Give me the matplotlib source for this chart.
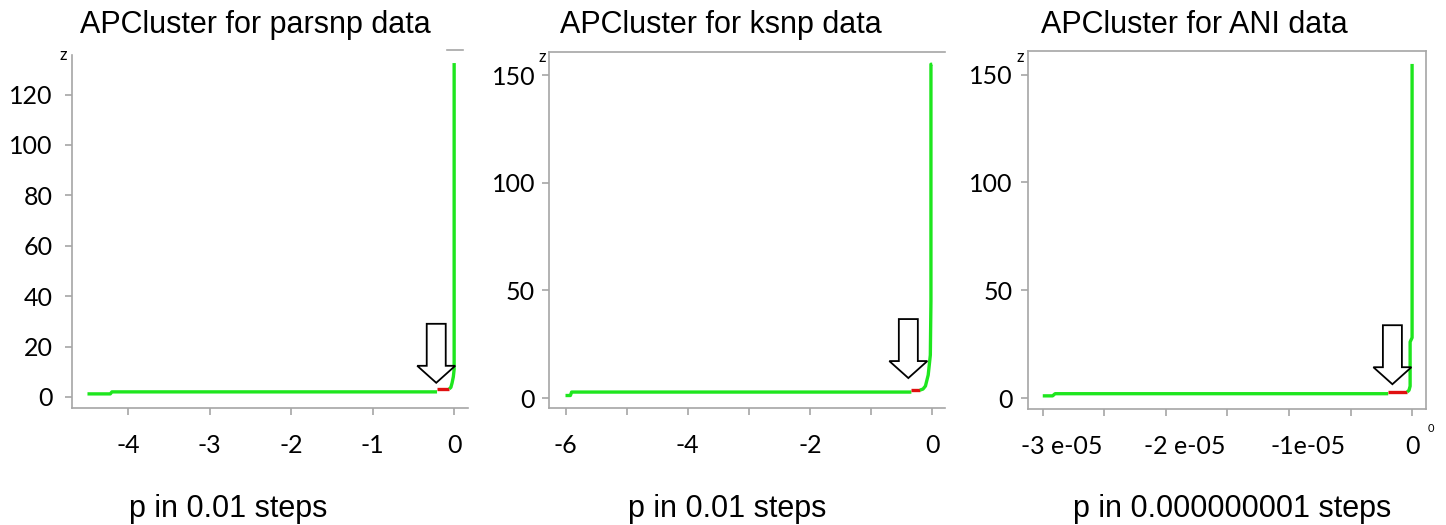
import matplotlib
matplotlib.use("Agg")
import matplotlib.pyplot as plt
import matplotlib.transforms as mtransforms
from matplotlib.patches import Polygon

# ---------------- data ----------------
titles = ["APCluster for parsnp data", "APCluster for ksnp data", "APCluster for ANI data"]
xlabels = ["p in 0.01 steps", "p in 0.01 steps", "p in 0.000000001 steps"]

# panel 1 (parsnp)
p1_green_a_x = [-4.50, -4.22, -4.20, -0.21]
p1_green_a_y = [1.2, 1.2, 2.0, 2.0]
p1_red_x = [-0.21, -0.06]
p1_red_y = [3.2, 3.2]
p1_green_b_x = [-0.06, -0.04, -0.025, -0.01, 0.0, 0.0]
p1_green_b_y = [3.2, 3.8, 5.6, 8.0, 11.0, 132.5]
p1_xticks = [-4, -3, -2, -1, 0]
p1_xticklabels = ["-4", "-3", "-2", "-1", "0"]
p1_yticks = [0, 20, 40, 60, 80, 100, 120]
p1_arrow_tip = (-0.22, 5.6)

# panel 2 (ksnp)
p2_green_a_x = [-6.00, -5.92, -5.90, -0.34]
p2_green_a_y = [1.2, 1.2, 2.8, 2.8]
p2_red_x = [-0.34, -0.20]
p2_red_y = [3.7, 3.7]
p2_green_b_x = [-0.20, -0.15, -0.11, -0.065, -0.03, -0.02, -0.02, 0.0]
p2_green_b_y = [3.7, 4.2, 5.6, 10.7, 20.0, 45.0, 155.0, 155.0]
p2_xticks = [-6, -4, -2, 0]
p2_xticklabels = ["-6", "-4", "-2", "0"]
p2_xminor = [-5, -3, -1]
p2_yticks = [0, 50, 100, 150]
p2_arrow_tip = (-0.39, 9.3)

# panel 3 (ANI)
p3_green_a_x = [-3.00e-05, -2.92e-05, -2.90e-05, -1.94e-06]
p3_green_a_y = [1.0, 1.0, 2.0, 2.0]
p3_red_x = [-1.94e-06, -0.40e-06]
p3_red_y = [2.8, 2.8]
p3_green_b_x = [-0.40e-06, -0.25e-06, -0.16e-06, -0.16e-06, 0.0, 0.0]
p3_green_b_y = [2.8, 3.6, 5.5, 26.0, 28.0, 155.0]
p3_xticks = [-3e-05, -2e-05, -1e-05, 0]
p3_xticklabels = ["-3 e-05", "-2 e-05", "-1e-05", "0"]
p3_xminor = [-2.5e-05, -1.5e-05, -0.5e-05]
p3_yticks = [0, 50, 100, 150]
p3_arrow_tip = (-1.6e-06, 6.4)

# ---------------- style ----------------
W, H = 1446, 525
GREEN = "#1ee61e"
RED = "#e01010"
GRAY = "#a6a6a6"
TICKFONT = "Lato"
TEXTFONT = "Liberation Sans"

fig = plt.figure(figsize=(W / 100, H / 100), dpi=100)


def px_axes(x0, ytop, x1, ybot):
    return fig.add_axes([x0 / W, (H - ybot) / H, (x1 - x0) / W, (ybot - ytop) / H])


def style(ax, top=False, right=False, ypad=9):
    for s in ["left", "bottom", "top", "right"]:
        ax.spines[s].set_color(GRAY)
        ax.spines[s].set_linewidth(1.2)
    ax.spines["top"].set_visible(top)
    ax.spines["right"].set_visible(right)
    ax.tick_params(which="both", direction="out", length=5, width=1.2, color=GRAY,
                   labelsize=18, labelcolor="black")
    ax.tick_params(axis="x", which="both", pad=14)
    ax.tick_params(axis="y", which="both", pad=ypad)
    for lab in ax.get_xticklabels() + ax.get_yticklabels():
        lab.set_fontfamily(TICKFONT)


def hollow_arrow(ax, tip):
    verts = [(0, 0), (-19, 17), (-9.5, 17), (-9.5, 59), (9.5, 59), (9.5, 17), (19, 17)]
    tr = mtransforms.Affine2D() + mtransforms.ScaledTranslation(tip[0], tip[1], ax.transData)
    poly = Polygon(verts, closed=True, facecolor="white", edgecolor="black",
                   linewidth=1.3, transform=tr, zorder=5, clip_on=False)
    ax.add_patch(poly)


LW = 2.4

# panel 1
ax1 = px_axes(72, 55, 468, 408)
ax1.plot(p1_green_a_x, p1_green_a_y, color=GREEN, lw=LW, solid_capstyle="butt")
ax1.plot(p1_red_x, p1_red_y, color=RED, lw=LW, solid_capstyle="butt")
ax1.plot(p1_green_b_x, p1_green_b_y, color=GREEN, lw=LW, solid_capstyle="butt")
ax1.set_xlim(-4.69, 0.17)
ax1.set_ylim(-4.4, 135.7)
ax1.set_xticks(p1_xticks)
ax1.set_xticklabels(p1_xticklabels)
ax1.set_yticks(p1_yticks)
style(ax1, ypad=9)
ax1.plot([-0.09, 0.11], [137.5, 137.5], color=GRAY, lw=1.2, clip_on=False)
hollow_arrow(ax1, p1_arrow_tip)

# panel 2
ax2 = px_axes(549, 52, 945, 408)
ax2.plot(p2_green_a_x, p2_green_a_y, color=GREEN, lw=LW, solid_capstyle="butt")
ax2.plot(p2_red_x, p2_red_y, color=RED, lw=LW, solid_capstyle="butt")
ax2.plot(p2_green_b_x, p2_green_b_y, color=GREEN, lw=LW, solid_capstyle="butt")
ax2.set_xlim(-6.27, 0.21)
ax2.set_ylim(-4.6, 160.7)
ax2.set_xticks(p2_xticks)
ax2.set_xticklabels(p2_xticklabels)
ax2.set_xticks(p2_xminor, minor=True)
ax2.set_yticks(p2_yticks)
style(ax2, top=True, ypad=5)
hollow_arrow(ax2, p2_arrow_tip)

# panel 3
ax3 = px_axes(1028, 51, 1426, 409)
ax3.plot(p3_green_a_x, p3_green_a_y, color=GREEN, lw=LW, solid_capstyle="butt")
ax3.plot(p3_red_x, p3_red_y, color=RED, lw=LW, solid_capstyle="butt")
ax3.plot(p3_green_b_x, p3_green_b_y, color=GREEN, lw=LW, solid_capstyle="butt")
ax3.set_xlim(-3.12e-05, 1.13e-06)
ax3.set_ylim(-5.1, 161.0)
ax3.set_xticks(p3_xticks)
ax3.set_xticklabels(p3_xticklabels)
ax3.set_xticks(p3_xminor, minor=True)
ax3.set_yticks(p3_yticks)
style(ax3, top=True, right=True, ypad=6)
# labels in the reference sit a little to the right of their ticks
shift = mtransforms.ScaledTranslation(19 / 100, 0, fig.dpi_scale_trans)
for lab in ax3.get_xticklabels()[:-1]:
    lab.set_transform(lab.get_transform() + shift)
hollow_arrow(ax3, p3_arrow_tip)

# titles, x-labels, small annotations
for cx, t in zip([255, 721, 1194], titles):
    fig.text(cx / W, (H - 33) / H, t, ha="center", va="baseline",
             fontsize=22, fontfamily=TEXTFONT)
for cx, t in zip([228, 727, 1232], xlabels):
    fig.text(cx / W, (H - 517) / H, t, ha="center", va="baseline",
             fontsize=22, fontfamily=TEXTFONT)
for zx, zy in [(63, 60), (542, 62), (1020, 62)]:
    fig.text(zx / W, (H - zy) / H, "z", ha="center", va="baseline",
             fontsize=12, fontfamily=TICKFONT)
fig.text(1431 / W, (H - 432) / H, "0", ha="center", va="baseline",
         fontsize=8, fontfamily=TICKFONT)

fig.savefig("out.png", dpi=100)
